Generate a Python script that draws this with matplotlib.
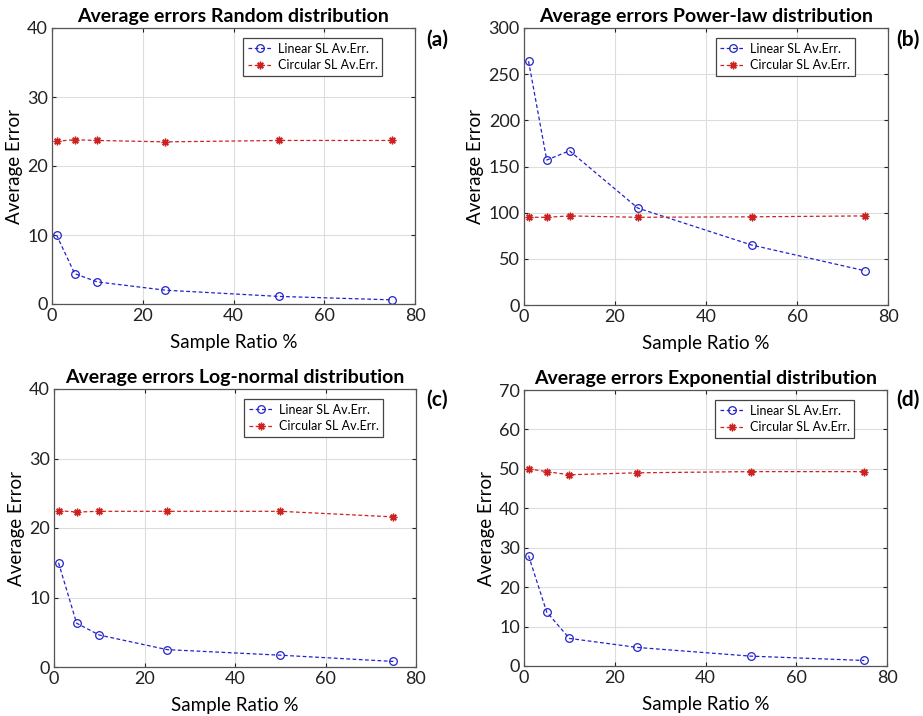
import matplotlib
matplotlib.use("Agg")
import matplotlib.pyplot as plt

plt.rcParams["font.family"] = ["Lato", "DejaVu Sans"]

sample_ratio = [1, 5, 10, 25, 50, 75]

titles = [
    "Average errors Random distribution",
    "Average errors Power-law distribution",
    "Average errors Log-normal distribution",
    "Average errors Exponential distribution",
]
panel_tags = ["(a)", "(b)", "(c)", "(d)"]

linear_random = [10.0, 4.4, 3.2, 2.0, 1.1, 0.6]
circular_random = [23.6, 23.8, 23.7, 23.5, 23.7, 23.7]

linear_power = [264, 157, 167, 105, 65, 37]
circular_power = [95, 95, 96.5, 95, 95.5, 96.5]

linear_lognorm = [15.0, 6.3, 4.6, 2.5, 1.7, 0.8]
circular_lognorm = [22.5, 22.3, 22.4, 22.4, 22.4, 21.6]

linear_expo = [28.0, 13.7, 7.0, 4.7, 2.5, 1.4]
circular_expo = [50.0, 49.3, 48.5, 49.0, 49.3, 49.3]

linear_sets = [linear_random, linear_power, linear_lognorm, linear_expo]
circular_sets = [circular_random, circular_power, circular_lognorm, circular_expo]
y_limits = [(0, 40), (0, 300), (0, 40), (0, 70)]
y_steps = [10, 50, 10, 10]

# axes rectangles in pixels: left, top, right, bottom
W, H = 923, 716
boxes = [(52, 28, 415, 304), (524, 28, 888, 305),
         (54, 389, 416, 667), (524, 390, 887, 666)]
tag_pos = [(437, 40), (908, 40), (437, 400), (908, 400)]

fig = plt.figure(figsize=(W / 100, H / 100), dpi=100)

for i in range(4):
    l, t, r, b = boxes[i]
    ax = fig.add_axes([l / W, 1 - b / H, (r - l) / W, (b - t) / H])
    ax.plot(sample_ratio, linear_sets[i], ls=(0, (3, 2)), lw=0.9, color="#2222cc",
            marker="o", mfc="none", mec="#2222cc", ms=5.5, mew=0.9,
            label="Linear SL Av.Err.")
    ax.plot(sample_ratio, circular_sets[i], ls=(0, (3, 2)), lw=0.9, color="#cc2222",
            marker=(8, 2, 0), ms=5.5, mew=1.0, label="Circular SL Av.Err.")
    ax.set_xlim(0, 80)
    ax.set_ylim(*y_limits[i])
    ax.set_xticks(range(0, 81, 20))
    lo, hi = y_limits[i]
    ax.set_yticks(range(lo, hi + 1, y_steps[i]))
    ax.grid(True, color="#dddddd", lw=0.8)
    ax.set_axisbelow(True)
    ax.tick_params(direction="in", top=True, right=True, length=3,
                   labelsize=13, colors="#222222", pad=3)
    for s in ax.spines.values():
        s.set_color("#555555")
        s.set_linewidth(0.9)
    ax.set_title(titles[i], fontsize=14, fontweight="bold", pad=4)
    ax.set_xlabel("Sample Ratio %", fontsize=13.5, labelpad=7)
    ax.set_ylabel("Average Error", fontsize=13.5, labelpad=3)
    leg = ax.legend(loc="upper right", bbox_to_anchor=(0.926, 0.985),
                    fontsize=9, numpoints=1, fancybox=False, framealpha=1,
                    edgecolor="#444444", handlelength=2.0, borderpad=0.35,
                    labelspacing=0.35, handletextpad=0.4)
    leg.get_frame().set_linewidth(0.9)
    fig.text(tag_pos[i][0] / W, 1 - tag_pos[i][1] / H, panel_tags[i],
             fontsize=15, fontweight="bold", ha="center", va="center")

fig.savefig("out.png", dpi=100)
